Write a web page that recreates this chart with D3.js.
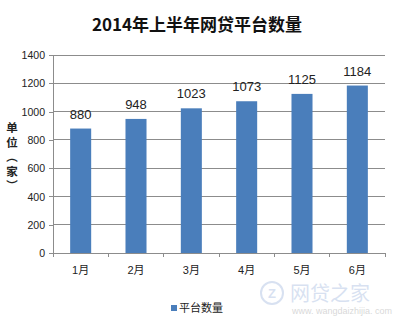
<!DOCTYPE html>
<html><head><meta charset="utf-8">
<script src="https://cdn.jsdelivr.net/npm/d3@7"></script>
<style>body{margin:0;background:#fff}svg{display:block}</style>
</head><body>
<svg id="c" width="394" height="317"></svg>
<script>
const months = ["1月","2月","3月","4月","5月","6月"];
const values = [880, 948, 1023, 1073, 1125, 1184];
const yTicks = [0,200,400,600,800,1000,1200,1400];
const seriesName = "平台数量";
const title = "2014年上半年网贷平台数量";
const yTitle = ["单","位","（","家","）"];

const svg = d3.select("#c");
const m = {l:53, r:9, t:55, b:64};
const W = 394, H = 317;
const x = d3.scaleBand().domain(months).range([m.l, W-m.r]).paddingInner(0.62).paddingOuter(0.31);
const y = d3.scaleLinear().domain([0,1400]).range([H-m.b, m.t]);

// grid
svg.append("g").selectAll("line").data(yTicks.slice(1)).join("line")
  .attr("x1", m.l).attr("x2", W-m.r).attr("y1", d=>y(d)).attr("y2", d=>y(d))
  .attr("stroke","#8c8c8c").attr("stroke-width",1).attr("shape-rendering","crispEdges");

// y axis
const ya = svg.append("g").attr("transform",`translate(${m.l},0)`)
  .call(d3.axisLeft(y).tickValues(yTicks).tickSize(4).tickPadding(4).tickFormat(d3.format("d")));
ya.selectAll("path,line").attr("stroke","#8c8c8c").attr("shape-rendering","crispEdges");
ya.selectAll("text").attr("font-family","Liberation Sans, Arial, sans-serif").attr("font-size",11.5)
  .attr("fill","#222").attr("transform","scale(0.92,1)").attr("x",-8/0.92);

// x axis
const xa = svg.append("g").attr("transform",`translate(0,${H-m.b})`)
  .call(d3.axisBottom(x).tickSize(0).tickPadding(13));
xa.select("path").attr("stroke","#8c8c8c").attr("shape-rendering","crispEdges");
xa.selectAll("text").attr("font-family","Liberation Sans, 'Noto Sans CJK SC', sans-serif").attr("font-size",11).attr("fill","#222");
// category separators
const bounds = d3.range(months.length+1).map(i => m.l + i*(W-m.r-m.l)/months.length);
svg.append("g").selectAll("line").data(bounds).join("line")
  .attr("x1",d=>d).attr("x2",d=>d).attr("y1",H-m.b).attr("y2",H-m.b+4)
  .attr("stroke","#8c8c8c").attr("shape-rendering","crispEdges");

// bars
svg.append("g").selectAll("rect").data(values).join("rect")
  .attr("x",(d,i)=>x(months[i])).attr("width",x.bandwidth())
  .attr("y",d=>y(d)).attr("height",d=>y(0)-y(d)).attr("fill","#4a7ebb");

// labels
svg.append("g").selectAll("text").data(values).join("text")
  .attr("x",(d,i)=>x(months[i])+x.bandwidth()/2).attr("y",d=>y(d)-10)
  .attr("text-anchor","middle").attr("font-family","Liberation Sans, Arial, sans-serif")
  .attr("font-size",13).attr("fill","#222").text(d=>d);

// title
svg.append("text").attr("x",197).attr("y",31).attr("text-anchor","middle")
  .attr("font-family","'Noto Sans CJK SC', sans-serif").attr("font-weight","bold")
  .attr("font-size",17).attr("fill","#111").text(title);

// y title (vertical)
svg.append("text").attr("transform","translate(12,122)")
  .attr("font-family","'Noto Sans CJK SC', sans-serif").attr("font-weight","bold")
  .attr("font-size",11.5).attr("fill","#222")
  .attr("writing-mode","vertical-rl").attr("text-orientation","upright")
  .attr("letter-spacing",3)
  .text(yTitle.join(""));

// watermark
const wm = svg.append("g").attr("opacity",0.33);
wm.append("circle").attr("cx",272).attr("cy",293).attr("r",11).attr("fill","none").attr("stroke","#8aa6d6").attr("stroke-width",2);
wm.append("text").attr("x",272).attr("y",298).attr("text-anchor","middle").attr("font-family","Liberation Sans, sans-serif").attr("font-weight","bold").attr("font-size",13).attr("fill","#8aa6d6").text("Z");
wm.append("text").attr("x",290).attr("y",301).attr("font-family","'Noto Sans CJK SC', sans-serif").attr("font-size",20).attr("fill","#8aa6d6").text("网贷之家");
wm.append("text").attr("x",292).attr("y",314).attr("font-family","Liberation Sans, sans-serif").attr("font-size",9).attr("fill","#8a8a8a").text("www. wangdaizhijia. com");

// legend
const lg = svg.append("g");
lg.append("rect").attr("x",171).attr("y",305).attr("width",6).attr("height",6).attr("fill","#4a7ebb");
lg.append("text").attr("x",179).attr("y",312).attr("font-family","'Noto Sans CJK SC', sans-serif")
  .attr("font-size",11).attr("fill","#222").text(seriesName);
</script>
</body></html>
